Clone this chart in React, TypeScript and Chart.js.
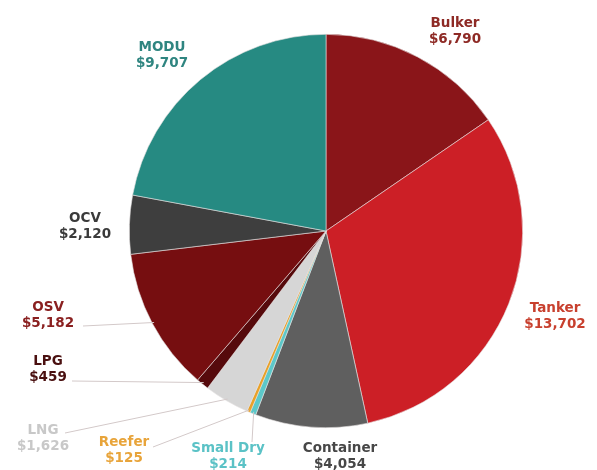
import React, { useEffect, useRef } from "react";
import { Chart, registerables } from "chart.js";

Chart.register(...registerables);

const categories = ["Bulker", "Tanker", "Container", "Small Dry", "Reefer", "LNG", "LPG", "OSV", "OCV", "MODU"];
const values = [6790, 13702, 4054, 214, 125, 1626, 459, 5182, 2120, 9707];
const valueLabels = ["$6,790", "$13,702", "$4,054", "$214", "$125", "$1,626", "$459", "$5,182", "$2,120", "$9,707"];

const sliceColors = ["#8a1519", "#cc1f26", "#5f5f5f", "#5cc8c9", "#e9a128", "#d6d6d6", "#560a0c", "#760e10", "#3e3e3e", "#268a82"];
const textColors = ["#8e2a25", "#c8402e", "#474747", "#5bc2c6", "#e8a43a", "#c8c8c8", "#4a1010", "#8a2020", "#3a3a3a", "#2f8580"];

// label layout: offsets from pie centre in px (line 1 centre), and optional leader-line start
const labelLayout: { dx: number; dy: number; lx?: number; ly?: number }[] = [
  { dx: 129, dy: -208 },
  { dx: 229, dy: 77 },
  { dx: 14, dy: 217 },
  { dx: -98, dy: 217, lx: -74, ly: 211 },
  { dx: -202, dy: 211, lx: -173, ly: 216 },
  { dx: -283, dy: 199, lx: -261, ly: 202 },
  { dx: -278, dy: 130, lx: -254, ly: 150 },
  { dx: -278, dy: 76, lx: -243, ly: 95 },
  { dx: -241, dy: -13 },
  { dx: -164, dy: -184 },
];

const labelPlugin = {
  id: "sliceLabels",
  afterDraw(chart: any) {
    const ctx = chart.ctx;
    const meta = chart.getDatasetMeta(0);
    ctx.save();
    meta.data.forEach((arc: any, i: number) => {
      const { x, y, startAngle, endAngle, outerRadius } = arc.getProps(["x", "y", "startAngle", "endAngle", "outerRadius"], true);
      const lay = labelLayout[i];
      if (lay.lx !== undefined && lay.ly !== undefined) {
        const mid = (startAngle + endAngle) / 2;
        const ex = x + Math.cos(mid) * outerRadius * 0.99;
        const ey = y + Math.sin(mid) * outerRadius * 0.99;
        ctx.strokeStyle = "#d3c9c9";
        ctx.lineWidth = 1;
        ctx.beginPath();
        ctx.moveTo(x + lay.lx, y + lay.ly);
        ctx.lineTo(ex, ey);
        ctx.stroke();
      }
      ctx.fillStyle = textColors[i];
      ctx.font = "bold 13.5px 'DejaVu Sans'";
      ctx.textAlign = "center";
      ctx.textBaseline = "middle";
      ctx.fillText(categories[i], x + lay.dx, y + lay.dy);
      ctx.fillText(valueLabels[i], x + lay.dx, y + lay.dy + 16);
    });
    ctx.restore();
  },
};

export default function App() {
  const ref = useRef<HTMLCanvasElement>(null);
  useEffect(() => {
    document.body.style.margin = "0";
    document.body.style.background = "#ffffff";
    const chart = new Chart(ref.current!, {
      type: "pie",
      data: {
        labels: categories,
        datasets: [
          {
            data: values,
            backgroundColor: sliceColors,
            borderColor: "#e4e0e0",
            borderWidth: 0.6,
          },
        ],
      },
      options: {
        animation: false,
        responsive: false,
        layout: { padding: { top: 34, bottom: 42, left: 129, right: 74 } },
        plugins: {
          legend: { display: false },
          tooltip: { enabled: false },
        },
      },
      plugins: [labelPlugin],
    });
    return () => chart.destroy();
  }, []);
  return (
    <div style={{ width: 597, height: 470, background: "#fff" }}>
      <canvas ref={ref} width={597} height={470} style={{ display: "block" }} />
    </div>
  );
}
